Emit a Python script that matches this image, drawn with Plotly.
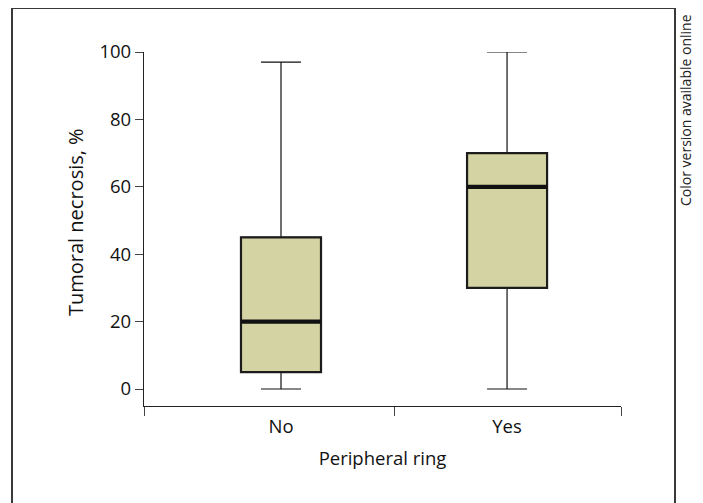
import plotly.graph_objects as go

categories = ["No", "Yes"]
lower_whisker = [0, 0]
q1_values = [5, 30]
median_values = [20, 60]
q3_values = [45, 70]
upper_whisker = [97, 100]

y_ticks = [0, 20, 40, 60, 80, 100]

positions = list(range(len(categories)))
FONT = "Open Sans"
FILL = "#d4d3a3"
BOX_W = 0.354

fig = go.Figure()
# whiskers + fill
fig.add_trace(go.Box(
    x=positions, q1=q1_values, median=median_values, q3=q3_values,
    lowerfence=lower_whisker, upperfence=upper_whisker,
    width=BOX_W, whiskerwidth=0.5, fillcolor=FILL,
    line=dict(color="#111111", width=1.2), boxpoints=False, hoverinfo="skip",
    showlegend=False))
# box outline (thicker)
fig.add_trace(go.Box(
    x=positions, q1=q1_values, median=median_values, q3=q3_values,
    lowerfence=q1_values, upperfence=q3_values,
    width=BOX_W, whiskerwidth=0, fillcolor=FILL,
    line=dict(color="#1c1c1c", width=2.2), boxpoints=False, hoverinfo="skip",
    showlegend=False))
# thick median
fig.add_trace(go.Box(
    x=positions, q1=median_values, median=median_values, q3=median_values,
    lowerfence=median_values, upperfence=median_values,
    width=BOX_W, whiskerwidth=0, fillcolor="rgba(0,0,0,0)",
    line=dict(color="#111111", width=4.2), boxpoints=False, hoverinfo="skip",
    showlegend=False))

# page has an 8px body margin: figure origin sits at (8, 8)
x_range = [-0.606, 1.504]
PW, PH = 477, 354  # plot area size in px
fig.update_layout(
    width=695, height=495,
    margin=dict(l=136, r=82, t=44, b=97),
    paper_bgcolor="white", plot_bgcolor="white",
    boxmode="overlay",
    font=dict(family=FONT, size=18, color="#111111"),
    xaxis=dict(
        range=x_range, tickvals=positions, ticktext=categories,
        ticks="outside", ticklen=4, tickcolor="rgba(0,0,0,0)",
        showline=False, showgrid=False, zeroline=False,
        tickfont=dict(size=18.5),
        title=dict(text="Peripheral ring", font=dict(size=18.5), standoff=14),
    ),
    xaxis2=dict(
        overlaying="x", matches="x", anchor="y", side="bottom",
        range=x_range, tickvals=[x_range[0], 0.5, x_range[1]],
        showticklabels=False, ticks="outside", ticklen=9, tickwidth=1.3,
        tickcolor="#444", showline=True, linecolor="#222", linewidth=1.3,
        showgrid=False, zeroline=False,
    ),
    yaxis=dict(
        range=[-5.04, 100], tickvals=y_ticks, ticks="outside", ticklen=8,
        tickwidth=1.3, tickcolor="#444", showline=True, linecolor="#222",
        linewidth=1.3, showgrid=False, zeroline=False,
        tickfont=dict(size=18.5),
    ),
    shapes=[dict(type="rect", xref="paper", yref="paper",
                 x0=(12 - 144) / PW, x1=(675 - 144) / PW,
                 y0=(406 - 520) / PH, y1=(406 - 8) / PH,
                 line=dict(color="#3a3a3a", width=2), fillcolor="rgba(0,0,0,0)")],
    annotations=[
        dict(text="Color version available online", xref="paper", yref="paper",
             x=(686 - 144) / PW, y=(406 - 12) / PH, xanchor="center", yanchor="top",
             textangle=-90, showarrow=False,
             font=dict(family=FONT, size=14, color="#222")),
        dict(text="Tumoral necrosis, %", xref="paper", yref="paper",
             x=(75 - 144) / PW, y=(406 - 222) / PH, xanchor="center", yanchor="middle",
             textangle=-90, showarrow=False,
             font=dict(family=FONT, size=20, color="#111111")),
    ],
)
# dummy trace to activate xaxis2
fig.add_trace(go.Scatter(x=[None], y=[None], xaxis="x2", showlegend=False, hoverinfo="skip"))

fig.write_html("out.html")
